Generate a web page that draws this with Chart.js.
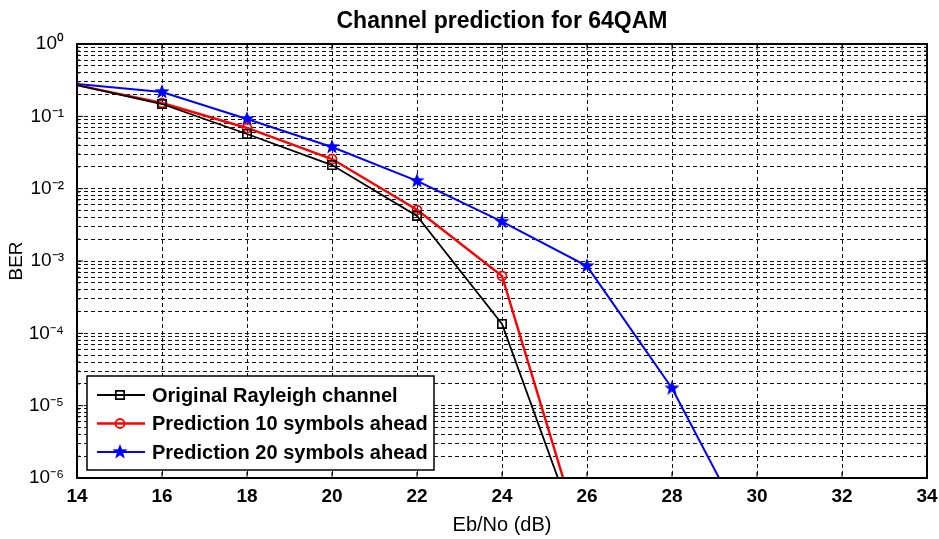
<!DOCTYPE html>
<html>
<head>
<meta charset="utf-8">
<script src="https://cdn.jsdelivr.net/npm/chart.js@4.4.1/dist/chart.umd.min.js"></script>
<style>
  html, body { margin: 0; padding: 0; background: #fff; }
</style>
</head>
<body>
<canvas id="myChart" width="939" height="539"></canvas>
<script>
// ---------------- data ----------------
const ebno = [14, 16, 18, 20, 22, 24, 26, 28, 30]
const berOriginal = [0.27, 0.148, 0.057, 0.0212, 0.0042, 1.35e-4, 7.8e-8]
const berPred10 = [0.27, 0.153, 0.069, 0.0257, 0.0051, 6.2e-4, 8.1e-8]
const berPred20 = [0.28, 0.217, 0.092, 0.0377, 0.0128, 0.0035, 8.5e-4, 1.74e-5, 1e-7]
const seriesNames = ['Original Rayleigh channel', 'Prediction 10 symbols ahead', 'Prediction 20 symbols ahead']

const xTicks = [14, 16, 18, 20, 22, 24, 26, 28, 30, 32, 34]
const yDecades = [1e-6, 1e-5, 1e-4, 1e-3, 1e-2, 1e-1, 1]
const yTickLabels = ['10⁻⁶', '10⁻⁵', '10⁻⁴', '10⁻³', '10⁻²', '10⁻¹', '10⁰']

const font = "'Liberation Sans', Arial, sans-serif"

// grid values 1..9 x 10^n for the log axis
const yGrid = []
yDecades.forEach((d, i) => {
    if (i === yDecades.length - 1) { yGrid.push(d); return }
    for (let m = 1; m < 10; m++) yGrid.push(m * d)
})

const toPoints = ys => ys.map((y, i) => ({ x: ebno[i], y: y }))

// filled five point star marker
const makeStar = (r, color) => {
    const c = document.createElement('canvas')
    c.width = c.height = Math.ceil(r * 2 + 2)
    const g = c.getContext('2d')
    g.fillStyle = color
    g.beginPath()
    for (let i = 0; i < 10; i++) {
        const rad = i % 2 ? r * 0.42 : r
        const a = -Math.PI / 2 + i * Math.PI / 5
        g.lineTo(c.width / 2 + rad * Math.cos(a), c.height / 2 + rad * Math.sin(a))
    }
    g.closePath()
    g.fill()
    return c
}
const star = makeStar(8, '#0000ff')

// no marker on the left edge (the curves come in from outside the axes)
const radius = r => c => ebno[c.dataIndex] <= xTicks[0] ? 0 : r

//---------------- frame, ticks and legend box ----------------
const framePlugin = {
    id: 'frame',
    afterDatasetsDraw(chart) {
        const { ctx, chartArea: a, scales } = chart
        ctx.save()
        ctx.strokeStyle = '#000'
        ctx.lineWidth = 1
        ctx.beginPath()
        xTicks.forEach(v => {
            const px = scales.x.getPixelForValue(v)
            ctx.moveTo(px, a.bottom); ctx.lineTo(px, a.bottom - 6)
            ctx.moveTo(px, a.top); ctx.lineTo(px, a.top + 6)
        })
        yGrid.forEach(v => {
            const py = scales.y.getPixelForValue(v)
            const len = yDecades.includes(v) ? 6 : 3
            ctx.moveTo(a.left, py); ctx.lineTo(a.left + len, py)
            ctx.moveTo(a.right, py); ctx.lineTo(a.right - len, py)
        })
        ctx.stroke()
        ctx.lineWidth = 2
        ctx.strokeRect(a.left, a.top, a.right - a.left, a.bottom - a.top)
        ctx.restore()
    }
}

const legendPlugin = {
    id: 'boxLegend',
    afterDraw(chart) {
        const { ctx, chartArea: a } = chart
        const x0 = a.left + 10, w = 347, h = 94
        const y0 = a.bottom - 8 - h
        ctx.save()
        ctx.fillStyle = '#fff'
        ctx.fillRect(x0, y0, w, h)
        ctx.strokeStyle = '#000'
        ctx.lineWidth = 1.5
        ctx.strokeRect(x0, y0, w, h)
        chart.data.datasets.forEach((ds, i) => {
            const y = y0 + 19 + i * 28.5
            ctx.strokeStyle = ds.borderColor
            ctx.lineWidth = ds.borderWidth
            ctx.beginPath()
            ctx.moveTo(x0 + 10, y); ctx.lineTo(x0 + 58, y)
            ctx.stroke()
            ctx.lineWidth = ds.pointBorderWidth
            ctx.fillStyle = ds.pointBackgroundColor
            Chart.helpers.drawPoint(ctx, {
                pointStyle: ds.pointStyle, rotation: 0,
                radius: ds.legendRadius, borderWidth: ds.pointBorderWidth
            }, x0 + 33, y)
            ctx.fillStyle = '#000'
            ctx.font = 'bold 20px ' + font
            ctx.textBaseline = 'middle'
            ctx.fillText(ds.label, x0 + 65, y + 1)
        })
        ctx.restore()
    }
}

const gridStyle = { color: '#111', lineWidth: 1, drawTicks: false }

const config = {
    type: 'line',
    data: {
        datasets: [{
            label: seriesNames[0],
            data: toPoints(berOriginal),
            borderColor: '#000000',
            borderWidth: 1.8,
            pointStyle: 'rect',
            pointRadius: radius(5.9),
            legendRadius: 5.9,
            pointBorderWidth: 1.6,
            pointBorderColor: '#000000',
            pointBackgroundColor: 'rgba(0,0,0,0)',
            clip: 0
        }, {
            label: seriesNames[1],
            data: toPoints(berPred10),
            borderColor: '#ff0000',
            borderWidth: 2.4,
            pointStyle: 'circle',
            pointRadius: radius(4.5),
            legendRadius: 4.5,
            pointBorderWidth: 1.8,
            pointBorderColor: '#ff0000',
            pointBackgroundColor: 'rgba(0,0,0,0)',
            clip: 0
        }, {
            label: seriesNames[2],
            data: toPoints(berPred20),
            borderColor: '#0000ff',
            borderWidth: 2,
            pointStyle: star,
            pointRadius: radius(8),
            legendRadius: 8,
            pointBorderWidth: 1,
            pointBorderColor: '#0000ff',
            pointBackgroundColor: '#0000ff',
            clip: 0
        }]
    },
    options: {
        responsive: false,
        animation: false,
        events: [],
        layout: { padding: { left: 0, right: 12, top: 0, bottom: 0 } },
        plugins: {
            legend: { display: false },
            tooltip: { enabled: false },
            title: {
                display: true,
                fullSize: false,
                text: 'Channel prediction for 64QAM',
                color: '#000',
                font: { family: font, size: 23, weight: 'bold', lineHeight: 1.2 },
                padding: { top: 8, bottom: 8.4 }
            }
        },
        scales: {
            x: {
                type: 'linear',
                min: xTicks[0],
                max: xTicks[xTicks.length - 1],
                afterBuildTicks: axis => { axis.ticks = xTicks.map(v => ({ value: v })) },
                afterFit: s => { s.height = 61; s.paddingLeft = 0; s.paddingRight = 0 },
                grid: gridStyle,
                border: { display: false, dash: [4, 3] },
                ticks: {
                    color: '#000', padding: 7, maxRotation: 0, autoSkip: false,
                    font: { family: font, size: 19, weight: 'bold' }
                },
                title: {
                    display: true, text: 'Eb/No (dB)', color: '#000',
                    font: { family: font, size: 20, lineHeight: 1.2 },
                    padding: { top: 0, bottom: 2 }
                }
            },
            y: {
                type: 'logarithmic',
                min: yDecades[0],
                max: yDecades[yDecades.length - 1],
                afterBuildTicks: axis => { axis.ticks = yGrid.map(v => ({ value: v })) },
                afterFit: s => { s.width = 77 },
                grid: gridStyle,
                border: { display: false, dash: [4, 3] },
                ticks: {
                    color: '#000', padding: 13, autoSkip: false,
                    font: { family: font, size: 19 },
                    callback: v => {
                        const i = yDecades.indexOf(v)
                        return i >= 0 ? yTickLabels[i] : ''
                    }
                },
                title: {
                    display: true, text: 'BER', color: '#000',
                    font: { family: font, size: 19, lineHeight: 1.2 },
                    padding: { top: 5, bottom: 0 }
                }
            }
        }
    },
    plugins: [framePlugin, legendPlugin]
}

const myChart = new Chart(document.getElementById('myChart'), config)
</script>
</body>
</html>
